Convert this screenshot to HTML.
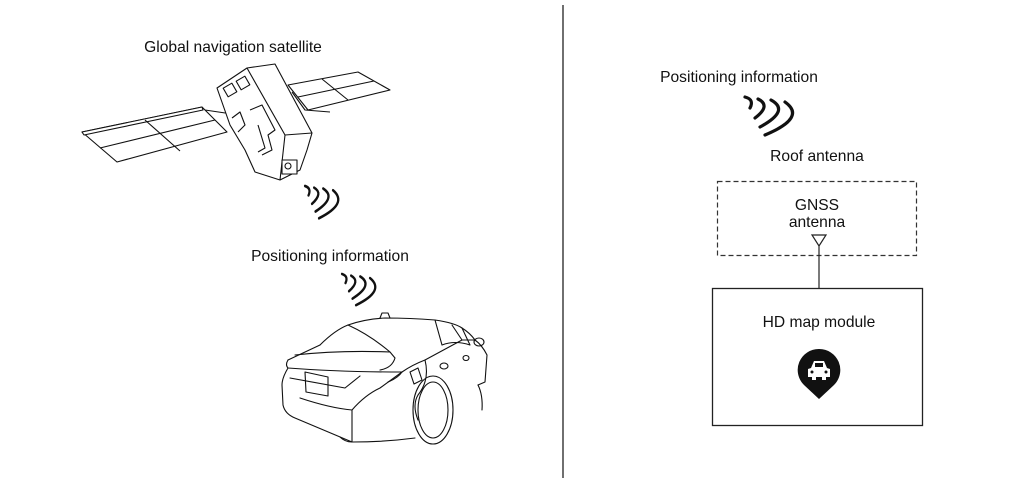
<!DOCTYPE html>
<html><head><meta charset="utf-8"><style>
html,body{margin:0;padding:0;background:#fff;}
svg{display:block;}
text{font-family:"Liberation Sans",Arial,sans-serif;font-size:15.6px;fill:#111;}
</style></head><body>
<svg width="1010" height="485" viewBox="0 0 1010 485" xmlns="http://www.w3.org/2000/svg">
<defs>
<g id="wv" fill="none" stroke="#111" stroke-width="3.2" stroke-linecap="round">
<path d="M0,0 Q9.5,2.5 5,11"/>
<path d="M13,2 Q26.5,8.5 10,21"/>
<path d="M26,3 Q45.5,13.5 15,30"/>
<path d="M40,5 Q62,20.5 20,38"/>
</g>
</defs>
<rect width="1010" height="485" fill="#fff"/>
<line x1="563" y1="5" x2="563" y2="478" stroke="#222" stroke-width="1.3"/>

<text x="233" y="52" text-anchor="middle">Global navigation satellite</text>
<g fill="#fff" stroke="#111" stroke-width="1.1" stroke-linejoin="round">
<polygon points="82,132 202,107 227,132 117,162"/>
<polygon points="82,132 202,107 203,110 84,135"/>
<line x1="145" y1="120" x2="180" y2="151"/>
<line x1="100" y1="148" x2="215" y2="120"/>
<polygon points="288,85 358,72 390,90 308,110"/>
<line x1="322" y1="79" x2="348" y2="100"/>
<line x1="298" y1="97" x2="374" y2="81"/>
<path d="M292,92 L305,110 L330,112" fill="none"/>
<path d="M205,110 L232,114 L240,130" fill="none"/>
<polygon points="217,88 247,68 275,64 312,133 307,150 300,170 280,180 255,172 245,150 230,125"/>
<polyline points="247,68 285,135 312,133" fill="none"/>
<polyline points="285,135 280,180" fill="none"/>
<rect x="225" y="85" width="10" height="10" transform="rotate(-30 230 90)"/>
<rect x="238" y="78" width="10" height="10" transform="rotate(-30 243 83)"/>
<polyline points="250,110 262,105 275,130 268,135 272,150 262,155" fill="none"/>
<polyline points="258,125 265,148 258,152" fill="none"/>
<rect x="282" y="160" width="15" height="14"/>
<circle cx="288" cy="166" r="3"/>
<polyline points="232,118 240,112 245,125 238,132" fill="none"/>
</g>
<use href="#wv" transform="translate(305,186) scale(0.7,0.85)"/>

<text x="330" y="261" text-anchor="middle">Positioning information</text>
<use href="#wv" transform="translate(342,274) scale(0.7,0.82)"/>

<g fill="none" stroke="#111" stroke-width="1.1" stroke-linejoin="round" stroke-linecap="round">
<path d="M320,345 Q335,330 348,325 Q365,319 385,318 Q410,318 435,320 Q455,323 462,328 Q470,333 475,340"/>
<path d="M288,360 L320,345"/>
<path d="M295,355 Q340,350 390,352 L395,358 Q392,368 380,370"/>
<path d="M348,325 Q370,335 390,352"/>
<path d="M288,360 Q285,365 288,368 Q340,372 402,372 Q398,378 388,382"/>
<path d="M288,368 Q282,378 282,385 L283,405 Q285,414 295,418 L352,442 Q385,442 415,438"/>
<path d="M290,378 L345,388 L360,376"/>
<path d="M305,372 L306,392 L328,396 L328,377 Z"/>
<path d="M300,398 Q330,408 352,410 L352,442"/>
<path d="M352,410 Q365,395 380,388 L402,372"/>
<path d="M402,372 Q412,365 425,360 L462,340 L475,340 Q482,345 487,355 L485,382 L478,385"/>
<path d="M435,320 L442,345 M452,325 L462,340 M462,328 L470,345 M442,345 Q455,340 470,345"/>
<path d="M425,360 Q430,380 418,395 Q412,405 418,420"/>
<ellipse cx="433" cy="410" rx="15" ry="28"/>
<ellipse cx="433" cy="410" rx="20" ry="34"/>
<path d="M478,385 Q483,395 482,410"/>
<ellipse cx="479" cy="342" rx="5" ry="4"/>
<path d="M410,372 L418,368 L422,380 L414,384 Z"/>
<ellipse cx="444" cy="366" rx="4" ry="3"/>
<ellipse cx="466" cy="358" rx="3" ry="2.5"/>
<path d="M380,318 L382,313 L388,313 L390,318"/>
<path d="M340,437 Q345,442 352,442"/>
</g>

<text x="739" y="82" text-anchor="middle">Positioning information</text>
<use href="#wv" transform="translate(745,97)"/>
<text x="817" y="161" text-anchor="middle">Roof antenna</text>
<rect x="717.5" y="181.5" width="199" height="74" fill="none" stroke="#333" stroke-width="1.2" stroke-dasharray="5,3"/>
<text x="817" y="210" text-anchor="middle">GNSS</text>
<text x="817" y="227" text-anchor="middle">antenna</text>
<path d="M812,235 L826,235 L819,246 Z M819,246 L819,288" fill="none" stroke="#222" stroke-width="1.2"/>
<rect x="712.5" y="288.5" width="210" height="137" fill="none" stroke="#222" stroke-width="1.3"/>
<text x="819" y="327" text-anchor="middle">HD map module</text>
<path d="M819,349 A21,21 0 0 1 834,385 L819,399 L804,385 A21,21 0 0 1 819,349 Z" fill="#111"/>
<path d="M811,368 L814,361 L824,361 L827,368 L830,369 L830,377 L808,377 L808,369 Z" fill="#fff"/>
<rect x="812" y="377" width="4" height="3" fill="#fff"/>
<rect x="822" y="377" width="4" height="3" fill="#fff"/>
<rect x="815" y="363" width="8" height="4" fill="#111"/>
<circle cx="812" cy="372" r="1.5" fill="#111"/>
<circle cx="826" cy="372" r="1.5" fill="#111"/>
</svg>
</body></html>
